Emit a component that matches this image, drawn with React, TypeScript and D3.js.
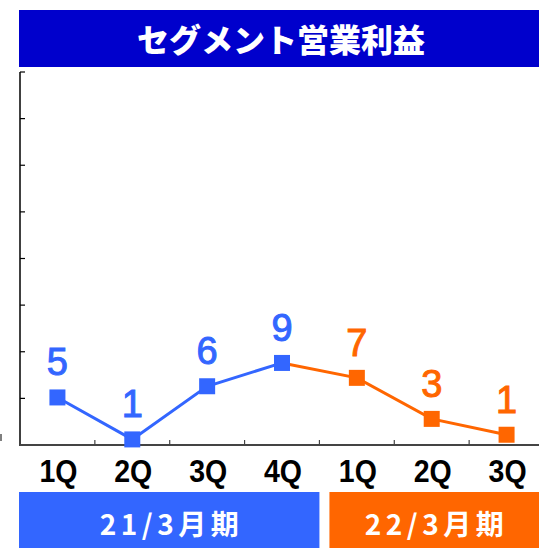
import React from "react";
import * as d3 from "d3";

const categories = ["1Q", "2Q", "3Q", "4Q", "1Q", "2Q", "3Q"];
const fy21Values = [5.1, 0.6, 6.3, 8.8];
const fy22Values = [7.2, 2.8, 1.1];
const periodLabels = ["21/3月期", "22/3月期"];
const yTicks = [0, 5, 10, 15, 20, 25, 30, 35, 40];
const title = "セグメント営業利益";

const W = 539;
const H = 548;
const BLUE = "#3366FF";
const ORANGE = "#FF6600";

export default function App() {
  const x = d3.scaleBand<number>().domain(d3.range(categories.length)).range([20, 544]).padding(0);
  const y = d3.scaleLinear().domain([0, 40]).range([445, 72]);
  const cx = (i: number) => (x(i) as number) + x.bandwidth() / 2;

  const all = [...fy21Values, ...fy22Values];
  const line = d3
    .line<[number, number]>()
    .x((d) => cx(d[0]))
    .y((d) => y(d[1]));
  const bluePts: [number, number][] = fy21Values.map((v, i) => [i, v]);
  const orangePts: [number, number][] = [
    [fy21Values.length - 1, fy21Values[fy21Values.length - 1]],
    ...fy22Values.map((v, i) => [i + fy21Values.length, v] as [number, number]),
  ];
  const ms = 16;
  const labelFont = "'Liberation Sans', Arial, sans-serif";
  const jpFont = "'Noto Sans CJK JP', sans-serif";

  const blueEnd = x(fy21Values.length) as number;

  return (
    <svg width={W} height={H} style={{ position: "absolute", left: 0, top: 0 }}>
      <rect x={19} y={10} width={W - 19} height={57} fill="#0000CC" />
      <text x={281} y={52} textAnchor="middle" fill="#fff" fontFamily={jpFont} fontWeight={900} fontSize={32}>
        {title}
      </text>

      {/* y axis */}
      <line x1={20} x2={20} y1={y(40)} y2={y(0) + 1} stroke="#000" strokeWidth={1.5} />
      {yTicks.map((t) => (
        <line key={t} x1={20} x2={25} y1={y(t)} y2={y(t)} stroke="#000" strokeWidth={1.2} />
      ))}
      <line x1={1} x2={1} y1={y(0) - 11} y2={y(0) - 4} stroke="#555" strokeWidth={1.5} />

      {/* x axis */}
      <line x1={20} x2={W} y1={y(0)} y2={y(0)} stroke="#444" strokeWidth={2} />
      {d3.range(1, categories.length).map((i) => (
        <line key={i} x1={x(i) as number} x2={x(i) as number} y1={y(0)} y2={y(0) - 5} stroke="#444" strokeWidth={1.2} />
      ))}
      {categories.map((c, i) => (
        <text
          key={i}
          x={cx(i) + 1}
          y={482}
          textAnchor="middle"
          fontFamily={labelFont}
          fontWeight={700}
          fontSize={32}
          textLength={38}
          lengthAdjust="spacingAndGlyphs"
          fill="#000"
        >
          {c}
        </text>
      ))}

      {/* lines */}
      <path d={line(orangePts) || ""} fill="none" stroke={ORANGE} strokeWidth={3} />
      <path d={line(bluePts) || ""} fill="none" stroke={BLUE} strokeWidth={3} />

      {all.map((v, i) => {
        const col = i < fy21Values.length ? BLUE : ORANGE;
        return (
          <g key={i}>
            <rect x={cx(i) - ms / 2} y={y(v) - ms / 2} width={ms} height={ms} fill={col} />
            <text
              x={cx(i)}
              y={y(v) - 22}
              textAnchor="middle"
              fontFamily={labelFont}
              fontSize={38}
              fill={col}
              stroke={col}
              strokeWidth={1}
            >
              {Math.round(v)}
            </text>
          </g>
        );
      })}

      {/* period bars */}
      <rect x={19} y={492} width={blueEnd - 19} height={H - 492} fill={BLUE} />
      <text
        x={(19 + blueEnd) / 2}
        y={535}
        textAnchor="middle"
        fill="#fff"
        fontFamily={jpFont}
        fontWeight={700}
        fontSize={28}
        textLength={139}
        lengthAdjust="spacing"
      >
        {periodLabels[0]}
      </text>
      <rect x={blueEnd + 10} y={492} width={W - blueEnd - 10} height={H - 492} fill={ORANGE} />
      <text
        x={(blueEnd + 10 + W) / 2}
        y={535}
        textAnchor="middle"
        fill="#fff"
        fontFamily={jpFont}
        fontWeight={700}
        fontSize={28}
        textLength={139}
        lengthAdjust="spacing"
      >
        {periodLabels[1]}
      </text>
    </svg>
  );
}
